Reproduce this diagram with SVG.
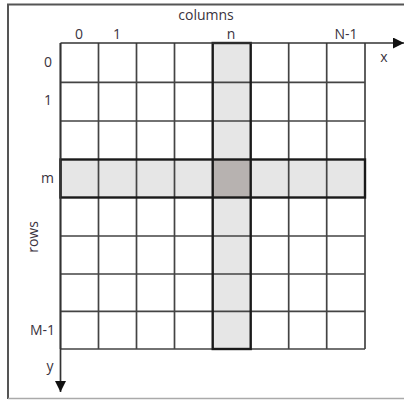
<svg xmlns="http://www.w3.org/2000/svg" width="404" height="400" viewBox="0 0 404 400">
<style>
.lbl{font-family:"Open Sans","Liberation Sans",sans-serif;font-size:14px;fill:#3a3340}
.grid{stroke:#444;stroke-width:1.7;fill:none}
.hl{stroke:#1a1a1a;stroke-width:2.4;fill:none}
.ax{stroke:#333;stroke-width:1.7;fill:none}
</style>
<defs>
<marker id="ah" viewBox="0 0 10 10" refX="10" refY="5" markerWidth="11" markerHeight="11" markerUnits="userSpaceOnUse" orient="auto">
<path d="M0,0 L10,5 L0,10 Z" fill="#111"/>
</marker>
</defs>
<rect x="0" y="0" width="404" height="400" fill="#fff"/>
<path d="M8,399 L8,4.5 L404,4.5" stroke="#555" stroke-width="2" fill="none"/>
<line x1="8" y1="398.5" x2="404" y2="398.5" stroke="#aaa" stroke-width="1.5"/>
<g id="highlight">
<rect x="212.7" y="43" width="38" height="306" fill="#e6e6e6"/>
<rect x="60.5" y="159.5" width="304.5" height="38" fill="#e6e6e6"/>
<rect x="212.7" y="159.5" width="38" height="38" fill="#b7b2b0"/>
</g>
<g id="grid">
<path class="grid" d="M60.5,43V349 M98.5,43V349 M136.5,43V349 M174.5,43V349 M288.7,43V349 M326.7,43V349 M365,43V349"/>
<path class="grid" d="M60.5,82.3H365 M60.5,121H365 M60.5,236H365 M60.5,274H365 M60.5,311.3H365 M60.5,349H365"/>
<rect class="hl" x="212.7" y="43" width="38" height="306"/>
<rect class="hl" x="60.5" y="159.5" width="304.5" height="38"/>
</g>
<g id="axes">
<line class="ax" x1="60.5" y1="43" x2="404" y2="43" marker-end="url(#ah)"/>
<line class="ax" x1="60.5" y1="43" x2="60.5" y2="392" marker-end="url(#ah)"/>
</g>
<g id="labels">
<text class="lbl" x="206" y="20" text-anchor="middle" font-size="14.5">columns</text>
<text class="lbl" x="79" y="39" text-anchor="middle">0</text>
<text class="lbl" x="117" y="39" text-anchor="middle">1</text>
<text class="lbl" x="231" y="39" text-anchor="middle">n</text>
<text class="lbl" x="346" y="39" text-anchor="middle">N-1</text>
<text class="lbl" x="384" y="62" text-anchor="middle">x</text>
<text class="lbl" x="52" y="67" text-anchor="end">0</text>
<text class="lbl" x="52" y="105" text-anchor="end">1</text>
<text class="lbl" x="54" y="183" text-anchor="end">m</text>
<text class="lbl" x="55" y="335" text-anchor="end">M-1</text>
<text class="lbl" x="50" y="371" text-anchor="middle">y</text>
<text class="lbl" transform="translate(38,237) rotate(-90)" text-anchor="middle">rows</text>
</g>
</svg>
